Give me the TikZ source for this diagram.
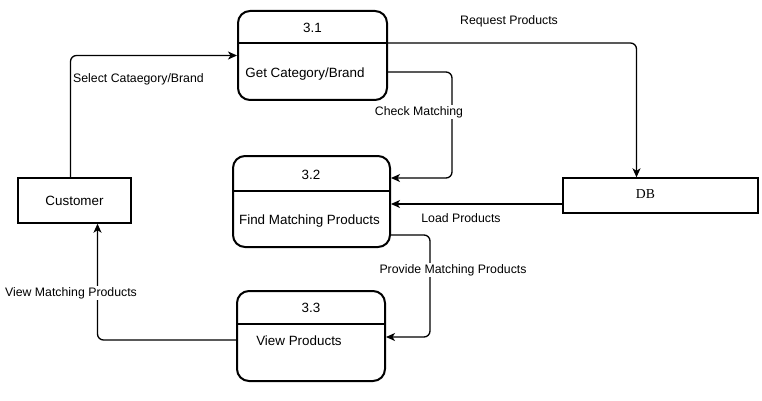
\documentclass[tikz,border=0pt]{standalone}
\usepackage{fontspec}
\setmainfont{Liberation Sans}
\newfontfamily\dbfont{Liberation Serif}
\usetikzlibrary{arrows.meta}

\begin{document}
\begin{tikzpicture}[x=1pt, y=-1pt,
  proc/.style={draw, line width=2pt, rounded corners=12pt, inner sep=0pt},
  ext/.style={draw, line width=1.4pt, inner sep=0pt},
  flow/.style={line width=1.3pt, rounded corners=6pt,
    -{Stealth[length=9pt, width=8pt, inset=2.5pt]}},
  lbl/.style={font=\fontsize{12.3}{14}\selectfont, inner sep=1pt},
  txt/.style={font=\fontsize{13.4}{16}\selectfont, inner sep=0pt}]

\useasboundingbox (0,0) rectangle (762,401);

%% processes
\node[proc, minimum width=149pt, minimum height=89pt] (p31) at (312.5,55.5) {};
\node[proc, minimum width=157pt, minimum height=91pt] (p32) at (311.5,201.5) {};
\node[proc, minimum width=148pt, minimum height=90pt] (p33) at (311,336) {};

\draw[line width=2pt] (p31.west |- 0,43) -- (p31.east |- 0,43);
\draw[line width=2pt] (p32.west |- 0,191) -- (p32.east |- 0,191);
\draw[line width=2pt] (p33.west |- 0,324) -- (p33.east |- 0,324);

\node[txt] (n31) at (312.5,28) {3.1};
\node[txt] (t31) at (305,74) {Get Category/Brand};
\node[txt] (n32) at (311,175) {3.2};
\node[txt] (t32) at (309.5,221) {Find Matching Products};
\node[txt] (n33) at (311,308) {3.3};
\node[txt] (t33) at (299,341) {View Products};

%% external entity and store
\node[ext, txt, minimum width=113pt, minimum height=45pt] (cust) at (74.5,200.5) {Customer};
\node[ext, minimum width=195pt, minimum height=35pt] (db) at (660.5,195.5) {};
\node[txt, font=\dbfont\fontsize{13.7}{16}\selectfont] (dbtxt) at (645.5,194.5) {DB};

%% flows
\draw[flow] ([xshift=-4pt]cust.north) |- (p31.west);
\node[lbl, anchor=west] (lsel) at (72,79) {Select Cataegory/Brand};

\draw[flow] ([yshift=12.5pt]p31.east) -| ([xshift=-24pt]db.north);
\node[lbl] (lreq) at (509,21) {Request Products};

\draw[flow] ([yshift=-16.5pt]p31.east) -- (452,72) -- (452,178)
  -- ([yshift=23.5pt]p32.east);
\node[lbl, fill=white] (lchk) at (419,112) {Check Matching};

\draw[flow] ([yshift=-8.5pt]db.west) coordinate (ld) -- (ld -| p32.east);
\node[lbl] (lload) at (461,218) {Load Products};

\draw[flow] ([yshift=-33.5pt]p32.east) -- (430,235) -- (430,337)
  -- ([yshift=-1pt]p33.east);
\node[lbl, fill=white] (lprov) at (453,270) {Provide Matching Products};

\draw[flow] ([yshift=-4pt]p33.west) -| ([xshift=23pt]cust.south);
\node[lbl, fill=white] (lview) at (71,293) {View Matching Products};

\end{tikzpicture}
\end{document}
